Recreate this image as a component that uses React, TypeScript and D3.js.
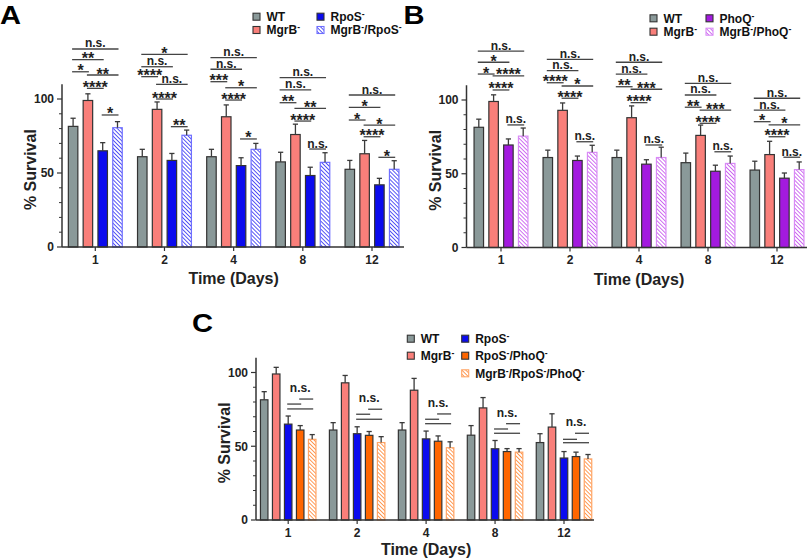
import React from 'react';
import * as d3 from 'd3';

// ---------------- data ----------------
const DAYS = ['1', '2', '4', '8', '12'];

const WT = [81.5, 61, 61, 57.5, 52.5];
const WT_ERR = [5.5, 5, 5, 6.5, 6];
const MGRB = [99, 93, 88, 76, 63];
const MGRB_ERR = [4.5, 5, 8, 7, 9];
const RPOS = [65, 58.5, 55, 48.3, 42];
const RPOS_ERR = [5.5, 4.7, 5.3, 5.6, 4.4];
const MGRB_RPOS = [80.6, 75.5, 66, 57.2, 52.5];
const MGRB_RPOS_ERR = [4.1, 3.5, 4, 6.5, 5.8];
const PHOQ = [69.5, 59, 56.5, 51.7, 47];
const PHOQ_ERR = [4.1, 3, 3, 4.1, 3.5];
const MGRB_PHOQ = [75.5, 64.5, 61, 57, 52.8];
const MGRB_PHOQ_ERR = [5.5, 4.8, 7, 5, 5.2];
const RPOS_PHOQ = [61, 57.4, 53.4, 46.4, 43];
const RPOS_PHOQ_ERR = [3, 2.6, 3.6, 2, 3];
const MGRB_RPOS_PHOQ = [54.7, 52.5, 49, 46, 41.4];
const MGRB_RPOS_PHOQ_ERR = [3.2, 4, 4, 2.4, 3];

const Y_MAJOR = [0, 50, 100];
const Y_MINOR = [10, 20, 30, 40, 60, 70, 80, 90];

// significance: [group, fromBar, toBar, label, level (% survival)]
const SIG_A: [number, number, number, string, number][] = [
  [0, 0, 3, 'n.s.', 133.8], [0, 0, 2, '**', 126.6], [0, 0, 1, '*', 118.4],
  [0, 1, 3, '**', 116.2], [0, 1, 2, '****', 107.2], [0, 2, 3, '*', 89.2],
  [1, 0, 3, '*', 130.2], [1, 0, 2, 'n.s.', 121.8], [1, 0, 1, '****', 115.1],
  [1, 1, 3, 'n.s.', 109.9], [1, 1, 2, '****', 100], [1, 2, 3, '**', 81.3],
  [2, 0, 3, 'n.s.', 127.9], [2, 0, 2, 'n.s.', 120.1], [2, 0, 1, '***', 111.7],
  [2, 1, 3, '*', 107.6], [2, 1, 2, '****', 99.3], [2, 2, 3, '*', 73],
  [3, 0, 3, 'n.s.', 114.4], [3, 0, 2, 'n.s.', 106.1], [3, 0, 1, '**', 97.5],
  [3, 1, 3, '**', 93.7], [3, 1, 2, '****', 85.1], [3, 2, 3, 'n.s.', 66.2],
  [4, 0, 3, 'n.s.', 102.7], [4, 0, 2, '*', 94.4], [4, 0, 1, '*', 85.8],
  [4, 1, 3, '*', 82.4], [4, 1, 2, '****', 74.5], [4, 2, 3, '*', 60.6],
];

const SIG_B: [number, number, number, string, number][] = [
  [0, 0, 3, 'n.s.', 133.2], [0, 0, 2, '*', 125.6], [0, 0, 1, '*', 117.6],
  [0, 1, 3, '****', 116.3], [0, 1, 2, '****', 106.8], [0, 2, 3, 'n.s.', 83.1],
  [1, 0, 3, 'n.s.', 127.6], [1, 0, 2, 'n.s.', 119.9], [1, 0, 1, '****', 111.7],
  [1, 1, 3, '*', 109.5], [1, 1, 2, '****', 101.2], [1, 2, 3, 'n.s.', 71.7],
  [2, 0, 3, 'n.s.', 125.6], [2, 0, 2, 'n.s.', 117.6], [2, 0, 1, '**', 109],
  [2, 1, 3, '***', 107.3], [2, 1, 2, '****', 98.2], [2, 2, 3, 'n.s.', 69.5],
  [3, 0, 3, 'n.s.', 111.3], [3, 0, 2, 'n.s.', 103.4], [3, 0, 1, '**', 95.1],
  [3, 1, 3, '***', 93.2], [3, 1, 2, '****', 84.2], [3, 2, 3, 'n.s.', 64.9],
  [4, 0, 3, 'n.s.', 101.2], [4, 0, 2, 'n.s.', 93.2], [4, 0, 1, '*', 85.3],
  [4, 1, 3, '*', 83.1], [4, 1, 2, '****', 75.1], [4, 2, 3, 'n.s.', 61.2],
];

// panel C: lines [group, fromBar, toBar, level]; labels [group, level]
const SIG_C_LINES: [number, number, number, number][] = [
  [0, 3, 4, 82], [0, 2, 3, 78.6], [0, 2, 4, 75.3],
  [1, 3, 4, 75.1], [1, 2, 3, 71.7], [1, 2, 4, 68.3],
  [2, 3, 4, 71.9], [2, 2, 3, 68.3], [2, 2, 4, 65.3],
  [3, 3, 4, 65.3], [3, 2, 3, 61.7], [3, 2, 4, 58.8],
  [4, 3, 4, 58.8], [4, 2, 3, 54.7], [4, 2, 4, 52.4],
];
const SIG_C_LABELS: [number, number][] = [
  [0, 87], [1, 80.2], [2, 76.8], [3, 70], [4, 63.7],
];

// ---------------- styling ----------------
type Series = {
  label: string;
  values: number[];
  errs: number[];
  fill: string;
  stroke: string;
};

const S_WT: Series = { label: 'WT', values: WT, errs: WT_ERR, fill: '#8A9999', stroke: '#333' };
const S_MGRB: Series = { label: 'MgrB~', values: MGRB, errs: MGRB_ERR, fill: '#F97F7A', stroke: '#333' };
const S_RPOS: Series = { label: 'RpoS~', values: RPOS, errs: RPOS_ERR, fill: '#0B0BEE', stroke: '#333' };
const S_MGRB_RPOS: Series = { label: 'MgrB~/RpoS~', values: MGRB_RPOS, errs: MGRB_RPOS_ERR, fill: 'url(#hatchBlue)', stroke: '#6F6FFF' };
const S_PHOQ: Series = { label: 'PhoQ~', values: PHOQ, errs: PHOQ_ERR, fill: '#A31ADF', stroke: '#333' };
const S_MGRB_PHOQ: Series = { label: 'MgrB~/PhoQ~', values: MGRB_PHOQ, errs: MGRB_PHOQ_ERR, fill: 'url(#hatchPurple)', stroke: '#D98AF5' };
const S_RPOS_PHOQ: Series = { label: 'RpoS~/PhoQ~', values: RPOS_PHOQ, errs: RPOS_PHOQ_ERR, fill: '#FF6600', stroke: '#333' };
const S_MGRB_RPOS_PHOQ: Series = { label: 'MgrB~/RpoS~/PhoQ~', values: MGRB_RPOS_PHOQ, errs: MGRB_RPOS_PHOQ_ERR, fill: 'url(#hatchOrange)', stroke: '#FFA566' };

const FONT = '"Liberation Sans", Arial, Helvetica, sans-serif';
const AXIS = '#333';
const SIGC = '#444';

type PanelCfg = {
  letter: string; letterX: number; letterY: number;
  axisX: number; xEnd: number; y0: number; y100: number;
  c0: number; c1: number; step: number; bw: number; titleDy: number;
  series: Series[];
  legend: [number, number, number][]; legendCols: number[]; legendRows: number[];
  sig?: [number, number, number, string, number][];
  sigCLines?: [number, number, number, number][];
  sigCLabels?: [number, number][];
};

const PANELS: PanelCfg[] = [
  {
    letter: 'A', letterX: 0, letterY: 23.5,
    axisX: 62, xEnd: 404, y0: 247, y100: 99, c0: 95.3, c1: 372, step: 14.8, bw: 9.5, titleDy: 37,
    series: [S_WT, S_MGRB, S_RPOS, S_MGRB_RPOS],
    legend: [[0, 0, 0], [1, 0, 1], [2, 1, 0], [3, 1, 1]],
    legendCols: [253, 317], legendRows: [16.7, 30],
    sig: SIG_A,
  },
  {
    letter: 'B', letterX: 403.5, letterY: 24,
    axisX: 466.5, xEnd: 807, y0: 247.5, y100: 100, c0: 501, c1: 777, step: 14.8, bw: 9.5, titleDy: 37,
    series: [S_WT, S_MGRB, S_PHOQ, S_MGRB_PHOQ],
    legend: [[0, 0, 0], [1, 0, 1], [2, 1, 0], [3, 1, 1]],
    legendCols: [650, 706], legendRows: [18.3, 31.7],
    sig: SIG_B,
  },
  {
    letter: 'C', letterX: 192, letterY: 332.3,
    axisX: 256, xEnd: 594, y0: 520, y100: 372.5, c0: 288.2, c1: 564, step: 12, bw: 7.5, titleDy: 35,
    series: [S_WT, S_MGRB, S_RPOS, S_RPOS_PHOQ, S_MGRB_RPOS_PHOQ],
    legend: [[0, 0, 0], [1, 0, 1], [2, 1, 0], [3, 1, 1], [4, 1, 2]],
    legendCols: [407.3, 461.7], legendRows: [338.7, 355.7, 373.3],
    sigCLines: SIG_C_LINES, sigCLabels: SIG_C_LABELS,
  },
];

function SupLabel({ text, x, y, size }: { text: string; x: number; y: number; size: number }) {
  const parts = text.split('~');
  const out: React.ReactNode[] = [];
  parts.forEach((p, i) => {
    if (p) out.push(<tspan key={'p' + i} dy={i > 0 ? 4 : 0}>{p}</tspan>);
    if (i < parts.length - 1) {
      out.push(<tspan key={'s' + i} dy={-4} fontSize={size * 0.72}>-</tspan>);
    }
  });
  return (
    <text x={x} y={y} fontSize={size} fontWeight="bold" fontFamily={FONT} fill="#111">
      {out}
    </text>
  );
}

function Panel({ cfg }: { cfg: PanelCfg }) {
  const n = cfg.series.length;
  const y = d3.scaleLinear().domain([0, 100]).range([cfg.y0, cfg.y100]);
  const x = d3.scalePoint<string>().domain(DAYS).range([cfg.c0, cfg.c1]);
  const pI = 1 - cfg.bw / cfg.step;
  const inner = d3
    .scaleBand<number>()
    .domain(d3.range(n))
    .range([(-n * cfg.step) / 2, (n * cfg.step) / 2])
    .paddingInner(pI)
    .paddingOuter(pI / 2);
  const bw = inner.bandwidth();
  const cx = (g: number, i: number) => (x(DAYS[g]) as number) + (inner(i) as number) + bw / 2;
  const midX = (cfg.c0 + cfg.c1) / 2;

  return (
    <g>
      <text x={cfg.letterX} y={cfg.letterY} fontSize={25} fontWeight="bold" fontFamily={FONT}
        textLength={21} lengthAdjust="spacingAndGlyphs" fill="#000">{cfg.letter}</text>

      {cfg.series.map((s, si) =>
        DAYS.map((d, g) => (
          <rect key={`b${si}-${g}`} x={cx(g, si) - bw / 2} y={y(s.values[g])} width={bw}
            height={y(0) - y(s.values[g])} fill={s.fill} stroke={s.stroke} strokeWidth={1.2} />
        ))
      )}
      {cfg.series.map((s, si) =>
        DAYS.map((d, g) => {
          const c = cx(g, si);
          const top = y(s.values[g] + s.errs[g]);
          return (
            <g key={`e${si}-${g}`} stroke="#3a3a3a" strokeWidth={1.3}>
              <line x1={c} x2={c} y1={y(s.values[g])} y2={top} />
              <line x1={c - 2.6} x2={c + 2.6} y1={top} y2={top} />
            </g>
          );
        })
      )}

      <line x1={cfg.axisX} x2={cfg.axisX} y1={y(0)} y2={y(110)} stroke={AXIS} strokeWidth={1.5} />
      <line x1={cfg.axisX} x2={cfg.xEnd} y1={y(0)} y2={y(0)} stroke={AXIS} strokeWidth={1.5} />
      {Y_MAJOR.map((v) => (
        <g key={'ym' + v}>
          <line x1={cfg.axisX - 5} x2={cfg.axisX} y1={y(v)} y2={y(v)} stroke={AXIS} strokeWidth={1.2} />
          <text x={cfg.axisX - 8} y={y(v) + 4.3} textAnchor="end" fontSize={12} fontWeight="bold"
            fontFamily={FONT} fill="#222">{v}</text>
        </g>
      ))}
      {Y_MINOR.map((v) => (
        <line key={'yn' + v} x1={cfg.axisX - 3} x2={cfg.axisX} y1={y(v)} y2={y(v)} stroke={AXIS} strokeWidth={1} />
      ))}
      {DAYS.map((d) => (
        <g key={'xt' + d}>
          <line x1={x(d)} x2={x(d)} y1={y(0)} y2={y(0) + 4} stroke={AXIS} strokeWidth={1.2} />
          <text x={x(d)} y={y(0) + 16.5} textAnchor="middle" fontSize={12} fontWeight="bold"
            fontFamily={FONT} fill="#222">{d}</text>
        </g>
      ))}
      <text x={midX} y={y(0) + cfg.titleDy} textAnchor="middle" fontSize={16} fontWeight="bold"
        fontFamily={FONT} fill="#222">Time (Days)</text>
      <text transform={`translate(${cfg.axisX - 26},${(y(0) + y(110)) / 2 + 4}) rotate(-90)`}
        textAnchor="middle" fontSize={16} fontWeight="bold" fontFamily={FONT} fill="#222">% Survival</text>

      {(cfg.sig || []).map(([g, a, b, lab, lvl], k) => {
        const x1 = cx(g, a) - 1;
        const x2 = cx(g, b) + 1;
        const yy = y(lvl);
        const ns = lab === 'n.s.';
        return (
          <g key={'s' + k}>
            <line x1={x1} x2={x2} y1={yy} y2={yy} stroke={SIGC} strokeWidth={1.3} />
            <text x={(x1 + x2) / 2} y={ns ? yy - 1.5 : yy + 4.5} textAnchor="middle"
              fontSize={ns ? 12 : 16} fontWeight="bold" fontFamily={FONT} fill="#222">{lab}</text>
          </g>
        );
      })}
      {(cfg.sigCLines || []).map(([g, a, b, lvl], k) => (
        <line key={'cl' + k} x1={cx(g, a) - 1} x2={cx(g, b) + 1} y1={y(lvl)} y2={y(lvl)}
          stroke={SIGC} strokeWidth={1.3} />
      ))}
      {(cfg.sigCLabels || []).map(([g, lvl], k) => (
        <text key={'ct' + k} x={cx(g, 3)} y={y(lvl)} textAnchor="middle" fontSize={12}
          fontWeight="bold" fontFamily={FONT} fill="#222">n.s.</text>
      ))}

      {cfg.legend.map(([si, col, row]) => {
        const s = cfg.series[si];
        const lx = cfg.legendCols[col];
        const ly = cfg.legendRows[row];
        return (
          <g key={'lg' + si}>
            <rect x={lx} y={ly - 3.5} width={7} height={7} fill={s.fill} stroke={s.stroke} strokeWidth={1.1} />
            <SupLabel text={s.label} x={lx + 13.5} y={ly + 4.3} size={12} />
          </g>
        );
      })}
    </g>
  );
}

export default function App() {
  return (
    <svg width={810} height={559} viewBox="0 0 810 559"
      style={{ position: 'absolute', left: 0, top: 0, background: '#fff' }}>
      <defs>
        <pattern id="hatchBlue" patternUnits="userSpaceOnUse" width={2.8} height={2.8} patternTransform="rotate(-45)">
          <rect width={2.8} height={2.8} fill="#fff" />
          <line x1={0} y1={0} x2={0} y2={2.8} stroke="#2020F0" strokeWidth={1.5} />
        </pattern>
        <pattern id="hatchPurple" patternUnits="userSpaceOnUse" width={2.8} height={2.8} patternTransform="rotate(-45)">
          <rect width={2.8} height={2.8} fill="#fff" />
          <line x1={0} y1={0} x2={0} y2={2.8} stroke="#C040EE" strokeWidth={1.5} />
        </pattern>
        <pattern id="hatchOrange" patternUnits="userSpaceOnUse" width={2.8} height={2.8} patternTransform="rotate(-45)">
          <rect width={2.8} height={2.8} fill="#fff" />
          <line x1={0} y1={0} x2={0} y2={2.8} stroke="#FF7A20" strokeWidth={1.5} />
        </pattern>
      </defs>
      <rect width={810} height={559} fill="#fff" />
      {PANELS.map((p) => (
        <Panel key={p.letter} cfg={p} />
      ))}
    </svg>
  );
}
